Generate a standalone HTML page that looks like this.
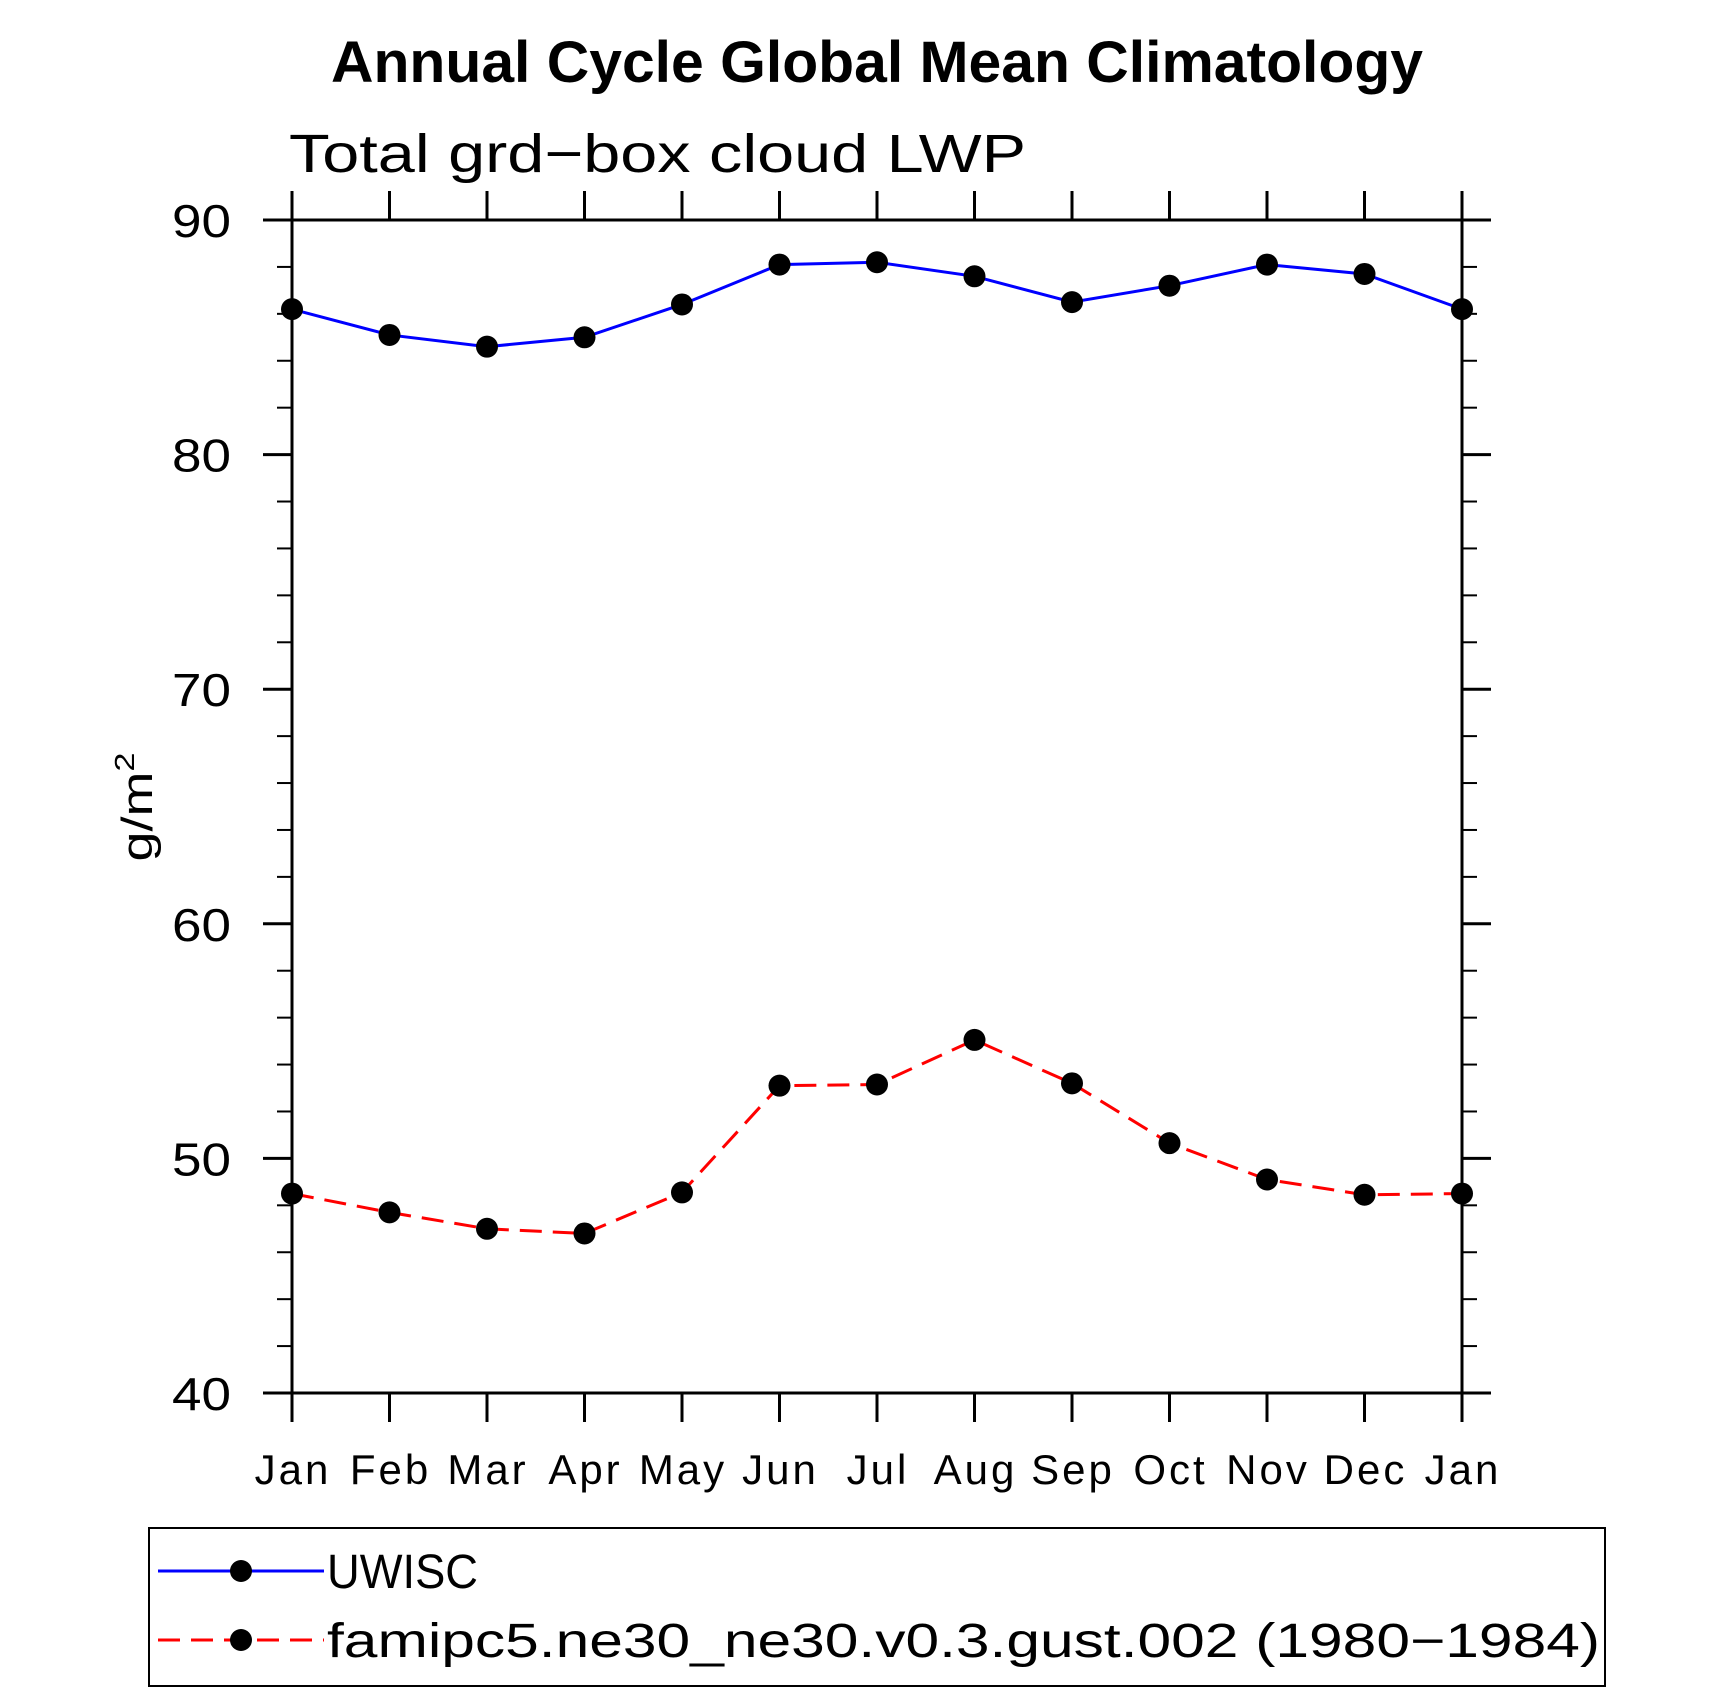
<!DOCTYPE html>
<html><head><meta charset="utf-8"><style>
html,body{margin:0;padding:0;background:#fff;}
svg{display:block;font-family:"Liberation Sans",sans-serif;}
</style></head><body>
<svg id="chart" width="1710" height="1691" viewBox="0 0 1710 1691" xmlns="http://www.w3.org/2000/svg">
<text x="877" y="82" text-anchor="middle" font-size="58" font-weight="bold" textLength="1092" lengthAdjust="spacingAndGlyphs">Annual Cycle Global Mean Climatology</text>
<text x="289" y="172" font-size="54" textLength="737" lengthAdjust="spacingAndGlyphs">Total grd−box cloud LWP</text>
<text transform="translate(152,807) rotate(-90)" text-anchor="middle" font-size="44" textLength="109" lengthAdjust="spacingAndGlyphs">g/m<tspan font-size="28" dy="-18">2</tspan></text>
<g id="axes"></g>
<g id="series"></g>
<rect x="149" y="1528" width="1456" height="158" fill="none" stroke="#000" stroke-width="2"/>
<g id="legend"></g>
</svg>
<script>
const months = ["Jan","Feb","Mar","Apr","May","Jun","Jul","Aug","Sep","Oct","Nov","Dec","Jan"];
const uwiscValues = [86.2,85.1,84.6,85.0,86.4,88.1,88.2,87.6,86.5,87.2,88.1,87.7,86.2];
const modelValues = [48.5,47.7,47.0,46.8,48.55,53.1,53.15,55.05,53.2,50.65,49.1,48.45,48.5];
const yTicks = [40,50,60,70,80,90];
const seriesNames = ["UWISC","famipc5.ne30_ne30.v0.3.gust.002 (1980−1984)"];

const NS="http://www.w3.org/2000/svg";
const L=292,R=1462,T=220,B=1393,YMIN=40,YMAX=90;
const xs=i=>L+(R-L)*i/(months.length-1);
const ys=v=>B-(B-T)*(v-YMIN)/(YMAX-YMIN);
function mk(tag,attrs,parent){const e=document.createElementNS(NS,tag);for(const k in attrs)e.setAttribute(k,attrs[k]);parent.appendChild(e);return e;}
const ax=document.getElementById('axes');
const frame=mk('rect',{x:L,y:T,width:R-L,height:B-T,fill:'none',stroke:'#000','stroke-width':3},ax);


for(let v=YMIN;v<=YMAX;v+=2){
  const major=(v%10===0);const len=major?29:15;const y=ys(v);
  const t1=mk('line',{x1:L-len,x2:L,y1:y,y2:y,stroke:'#000','stroke-width':major?3:2},ax);
  
  
  const t2=mk('line',{x1:R,x2:R+len,y1:y,y2:y,stroke:'#000','stroke-width':major?3:2},ax);
  
  
}
yTicks.forEach(v=>{
  const t=mk('text',{x:231,y:ys(v)+17,'text-anchor':'end','font-size':46,textLength:59,lengthAdjust:'spacingAndGlyphs'},ax);
  t.textContent=v;
  
  
});
months.forEach((m,i)=>{
  const x=xs(i);
  const a=mk('line',{x1:x,x2:x,y1:T-29,y2:T,stroke:'#000','stroke-width':3},ax);
  
  
  const b=mk('line',{x1:x,x2:x,y1:B,y2:B+29,stroke:'#000','stroke-width':3},ax);
  
  
  const t=mk('text',{x:x+1,y:1484,'text-anchor':'middle','font-size':42,'letter-spacing':3},ax);
  t.textContent=m;
  
  
});
const sg=document.getElementById('series');
function drawSeries(vals,color,dash,name){
  const g=mk('g',{},sg);
  
  
  const p=mk('polyline',{points:vals.map((v,i)=>xs(i)+','+ys(v)).join(' '),fill:'none',stroke:color,'stroke-width':3,'stroke-dasharray':dash},g);
  
  
  vals.forEach((v,i)=>{
    const c=mk('circle',{cx:xs(i),cy:ys(v),r:11,fill:'#000'},g);
    
    
  });
}
drawSeries(uwiscValues,'#0000ff','none','uwisc-series');
drawSeries(modelValues,'#ff0000','22,11','model-series');
const lg=document.getElementById('legend');
const legLens=[151,1273];
[[1571,'#0000ff','none'],[1640,'#ff0000','22,11']].forEach((d,i)=>{
  const g=mk('g',{},lg);
  
  
  mk('line',{x1:158,x2:324,y1:d[0],y2:d[0],stroke:d[1],'stroke-width':3,'stroke-dasharray':d[2]},g);
  mk('circle',{cx:241,cy:d[0],r:11,fill:'#000'},g);
  const t=mk('text',{x:327,y:d[0]+17,'font-size':48,textLength:legLens[i],lengthAdjust:'spacingAndGlyphs'},g);
  t.textContent=seriesNames[i];
});
</script>
</body></html>
